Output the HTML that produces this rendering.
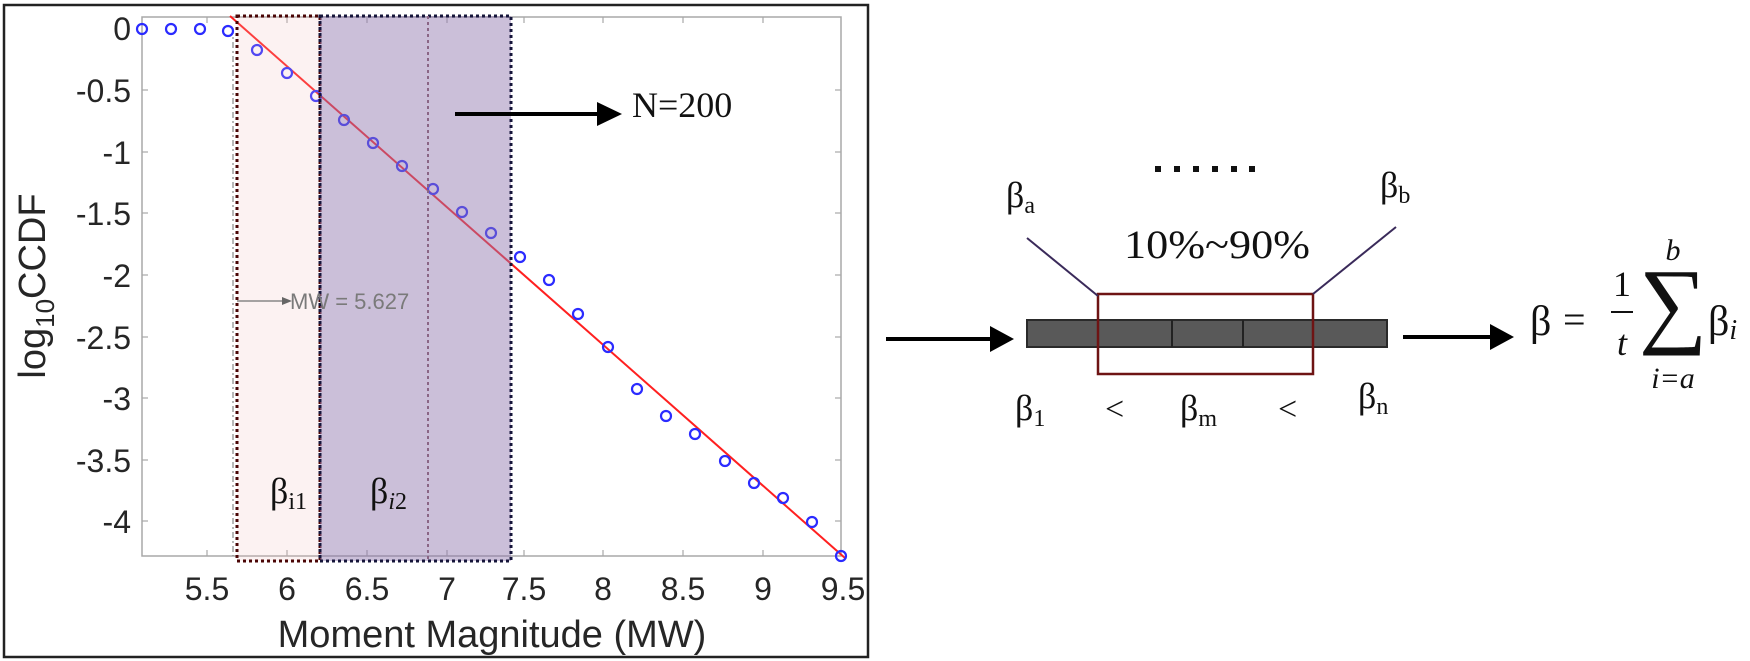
<!DOCTYPE html>
<html><head><meta charset="utf-8"><style>
html,body{margin:0;padding:0;background:#fff;}
svg{display:block;}
</style></head><body>
<svg width="1750" height="661" viewBox="0 0 1750 661" xmlns="http://www.w3.org/2000/svg">
<rect x="0" y="0" width="1750" height="661" fill="#fff"/>
<rect x="4" y="5" width="864" height="652" fill="none" stroke="#222" stroke-width="2.5"/>
<rect x="142" y="17" width="699" height="539" fill="#fff" stroke="#a8a8a8" stroke-width="1.5"/>
<g stroke="#a8a8a8" stroke-width="1.2">
<line x1="207" y1="556" x2="207" y2="550"/><line x1="287" y1="556" x2="287" y2="550"/><line x1="367" y1="556" x2="367" y2="550"/><line x1="447" y1="556" x2="447" y2="550"/><line x1="524" y1="556" x2="524" y2="550"/><line x1="603" y1="556" x2="603" y2="550"/><line x1="683" y1="556" x2="683" y2="550"/><line x1="763" y1="556" x2="763" y2="550"/>
<line x1="207" y1="17" x2="207" y2="23"/><line x1="287" y1="17" x2="287" y2="23"/><line x1="367" y1="17" x2="367" y2="23"/><line x1="447" y1="17" x2="447" y2="23"/><line x1="524" y1="17" x2="524" y2="23"/><line x1="603" y1="17" x2="603" y2="23"/><line x1="683" y1="17" x2="683" y2="23"/><line x1="763" y1="17" x2="763" y2="23"/>
<line x1="142" y1="90" x2="148" y2="90"/><line x1="142" y1="152" x2="148" y2="152"/><line x1="142" y1="213" x2="148" y2="213"/><line x1="142" y1="275" x2="148" y2="275"/><line x1="142" y1="337" x2="148" y2="337"/><line x1="142" y1="398" x2="148" y2="398"/><line x1="142" y1="460" x2="148" y2="460"/><line x1="142" y1="521" x2="148" y2="521"/>
<line x1="841" y1="90" x2="835" y2="90"/><line x1="841" y1="152" x2="835" y2="152"/><line x1="841" y1="213" x2="835" y2="213"/><line x1="841" y1="275" x2="835" y2="275"/><line x1="841" y1="337" x2="835" y2="337"/><line x1="841" y1="398" x2="835" y2="398"/><line x1="841" y1="460" x2="835" y2="460"/><line x1="841" y1="521" x2="835" y2="521"/>
</g>
<g font-family="Liberation Sans, sans-serif" font-size="32" fill="#262626" text-anchor="middle">
<text x="207" y="600">5.5</text><text x="287" y="600">6</text><text x="367" y="600">6.5</text><text x="447" y="600">7</text><text x="524" y="600">7.5</text><text x="603" y="600">8</text><text x="683" y="600">8.5</text><text x="763" y="600">9</text><text x="843" y="600">9.5</text>
</g>
<g font-family="Liberation Sans, sans-serif" font-size="32" fill="#262626" text-anchor="end">
<text x="131" y="40">0</text><text x="131" y="102">-0.5</text><text x="131" y="164">-1</text><text x="131" y="225">-1.5</text><text x="131" y="287">-2</text><text x="131" y="349">-2.5</text><text x="131" y="410">-3</text><text x="131" y="472">-3.5</text><text x="131" y="533">-4</text>
</g>
<text x="492" y="647" font-family="Liberation Sans, sans-serif" font-size="38" fill="#262626" text-anchor="middle">Moment Magnitude (MW)</text>
<text transform="translate(45,286) rotate(-90)" font-family="Liberation Sans, sans-serif" font-size="38" fill="#262626" text-anchor="middle">log<tspan font-size="26" dy="9">10</tspan><tspan dy="-9">CCDF</tspan></text>
<line x1="233" y1="28" x2="233" y2="556" stroke="#888" stroke-width="1.2" stroke-dasharray="6,3,2,3"/>
<line x1="230" y1="16" x2="845" y2="558" stroke="#ff2020" stroke-width="2"/>
<g fill="none" stroke="#2b2bff" stroke-width="2.2">
<circle cx="142" cy="29" r="5"/><circle cx="171" cy="29" r="5"/><circle cx="200" cy="29" r="5"/><circle cx="228" cy="31" r="5"/><circle cx="257" cy="50" r="5"/><circle cx="287" cy="73" r="5"/><circle cx="316" cy="96" r="5"/><circle cx="344" cy="120" r="5"/><circle cx="373" cy="143" r="5"/><circle cx="402" cy="166" r="5"/><circle cx="433" cy="189" r="5"/><circle cx="462" cy="212" r="5"/><circle cx="491" cy="233" r="5"/><circle cx="520" cy="257" r="5"/><circle cx="549" cy="280" r="5"/><circle cx="578" cy="314" r="5"/><circle cx="608" cy="347" r="5"/><circle cx="637" cy="389" r="5"/><circle cx="666" cy="416" r="5"/><circle cx="695" cy="434" r="5"/><circle cx="725" cy="461" r="5"/><circle cx="754" cy="483" r="5"/><circle cx="783" cy="498" r="5"/><circle cx="812" cy="522" r="5"/><circle cx="841" cy="556" r="5"/>
</g>
<rect x="237" y="16" width="83" height="545" fill="rgba(240,190,190,0.2)" stroke="#4a0505" stroke-width="3" stroke-dasharray="3,3"/>
<rect x="320" y="16" width="191" height="545" fill="rgba(145,120,175,0.47)" stroke="#15153a" stroke-width="3" stroke-dasharray="3,3"/>
<line x1="428" y1="16" x2="428" y2="561" stroke="#8a6585" stroke-width="2" stroke-dasharray="3,3"/>
<line x1="237" y1="301" x2="284" y2="301" stroke="#888" stroke-width="1.5"/>
<polygon points="292,301 282,297 282,305" fill="#666"/>
<text x="290" y="309" font-family="Liberation Sans, sans-serif" font-size="22" fill="#7a7a7a">MW = 5.627</text>
<text x="270" y="503" font-family="Liberation Serif, serif" font-size="36" fill="#111">β<tspan font-size="24" dy="6">i1</tspan></text>
<text x="370" y="503" font-family="Liberation Serif, serif" font-size="36" fill="#111">β<tspan font-size="24" dy="6" font-style="italic">i</tspan><tspan font-size="24">2</tspan></text>
<line x1="455" y1="114" x2="600" y2="114" stroke="#000" stroke-width="4"/>
<polygon points="622,114 597,102 597,126" fill="#000"/>
<text x="632" y="117" font-family="Liberation Serif, serif" font-size="36" fill="#111">N=200</text>

<line x1="886" y1="339" x2="995" y2="339" stroke="#000" stroke-width="4"/>
<polygon points="1014,339 990,326 990,352" fill="#000"/>
<rect x="1027" y="320" width="360" height="27" fill="#595959" stroke="#2a2a2a" stroke-width="2"/>
<line x1="1172" y1="320" x2="1172" y2="347" stroke="#222" stroke-width="2"/>
<line x1="1243" y1="320" x2="1243" y2="347" stroke="#222" stroke-width="2"/>
<rect x="1098" y="294" width="215" height="80" fill="none" stroke="#6e1414" stroke-width="2.5"/>
<line x1="1027" y1="238" x2="1098" y2="296" stroke="#3a2a5a" stroke-width="2"/>
<line x1="1313" y1="294" x2="1396" y2="227" stroke="#3a2a5a" stroke-width="2"/>
<g fill="#111">
<rect x="1155" y="166" width="6" height="6"/><rect x="1174" y="166" width="6" height="6"/><rect x="1193" y="166" width="6" height="6"/><rect x="1212" y="166" width="6" height="6"/><rect x="1231" y="166" width="6" height="6"/><rect x="1249" y="166" width="6" height="6"/>
</g>
<g font-family="Liberation Serif, serif" fill="#111">
<text x="1006" y="207" font-size="36">β<tspan font-size="24" dy="6">a</tspan></text>
<text x="1380" y="197" font-size="36">β<tspan font-size="24" dy="6">b</tspan></text>
<text x="1124" y="258" font-size="40" textLength="186" lengthAdjust="spacingAndGlyphs">10%~90%</text>
<text x="1015" y="420" font-size="36">β<tspan font-size="24" dy="6">1</tspan></text>
<text x="1105" y="420" font-size="34">&lt;</text>
<text x="1180" y="420" font-size="36">β<tspan font-size="24" dy="6">m</tspan></text>
<text x="1278" y="420" font-size="34">&lt;</text>
<text x="1358" y="408" font-size="36">β<tspan font-size="24" dy="6">n</tspan></text>
</g>
<line x1="1403" y1="337" x2="1492" y2="337" stroke="#000" stroke-width="4"/>
<polygon points="1514,337 1490,324 1490,350" fill="#000"/>
<g font-family="Liberation Serif, serif" fill="#111">
<text x="1530" y="335" font-size="42">β</text>
<text x="1563" y="333" font-size="40">=</text>
<text x="1622" y="296" font-size="36" text-anchor="middle">1</text>
<line x1="1611" y1="312" x2="1633" y2="312" stroke="#111" stroke-width="2"/>
<text x="1622" y="355" font-size="36" font-style="italic" text-anchor="middle">t</text>
<text x="1673" y="335" font-size="96" text-anchor="middle">∑</text>
<text x="1673" y="260" font-size="30" font-style="italic" text-anchor="middle">b</text>
<text x="1673" y="388" font-size="30" font-style="italic" text-anchor="middle">i=a</text>
<text x="1708" y="335" font-size="42">β<tspan font-size="28" dy="4" font-style="italic">i</tspan></text>
</g>
</svg>
</body></html>
